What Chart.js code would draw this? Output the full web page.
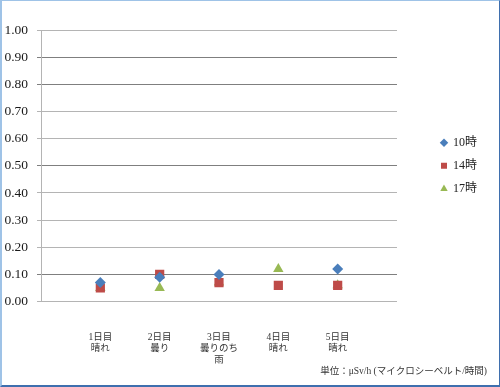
<!DOCTYPE html>
<html lang="ja">
<head>
<meta charset="UTF-8">
<title>空間線量</title>
<script src="https://cdn.jsdelivr.net/npm/chart.js"></script>
<style>
  html, body { margin: 0; padding: 0; background: #fff; }
  #wrap {
    position: relative;
    width: 500px; height: 387px;
    box-sizing: border-box;
    border-top: 1px solid #9fc3e7;
    border-left: 2px solid #9fc3e7;
    border-right: 1px solid #3f6fae;
    border-bottom: 2px solid #3f6fae;
  }
</style>
</head>
<body>
<div id="wrap"><canvas id="doseChart"></canvas></div>
<script>
  // days (x positions 1..5) and their labels
  const dayLabels = [
    ['1日目', '晴れ'],
    ['2日目', '曇り'],
    ['3日目', '曇りのち', '雨'],
    ['4日目', '晴れ'],
    ['5日目', '晴れ']
  ];
  const seriesNames = ['10時', '14時', '17時'];
  const at10 = [0.07, 0.09, 0.10, null, 0.12];
  const at14 = [0.05, 0.10, 0.07, 0.06, 0.06];
  const at17 = [0.05, 0.05, 0.07, 0.12, 0.06];
  const unitText = '単位：μSv/h (マイクロシーベルト/時間)';

  const serif = "'Liberation Serif', 'Noto Sans CJK JP', serif";
  const toPoints = vals => vals.map((v, i) => ({ x: i + 1, y: v }));

  const ctx = document.getElementById('doseChart').getContext('2d');
  new Chart(ctx, {
    type: 'scatter',
    data: {
      datasets: [
        { label: seriesNames[0], data: toPoints(at10), pointStyle: 'rectRot', pointRadius: 5.5,
          backgroundColor: '#4a7ebb', borderColor: '#4a7ebb', borderWidth: 0 },
        { label: seriesNames[1], data: toPoints(at14), pointStyle: 'rect', pointRadius: 6.5,
          backgroundColor: '#be4b48', borderColor: '#be4b48', borderWidth: 0 },
        { label: seriesNames[2], data: toPoints(at17), pointStyle: 'triangle', pointRadius: 6,
          backgroundColor: '#98b954', borderColor: '#98b954', borderWidth: 0 }
      ]
    },
    options: {
      responsive: true,
      maintainAspectRatio: false,
      animation: false,
      layout: { padding: { top: 29, right: 12, bottom: 4, left: 0 } },
      scales: {
        x: {
          type: 'linear', min: 0, max: 6,
          afterBuildTicks: axis => { axis.ticks = dayLabels.map((_, i) => ({ value: i + 1 })); },
          afterFit: axis => { axis.height = 62; },
          grid: { display: false, drawTicks: false },
          border: { display: false },
          ticks: {
            padding: 30, maxRotation: 0, color: '#333',
            font: { family: serif, size: 9.5 }, lineHeight: 1.3,
            callback: v => dayLabels[v - 1] || ''
          }
        },
        y: {
          min: 0, max: 1,
          afterFit: axis => { axis.width = 39; },
          ticks: {
            stepSize: 0.1, color: '#1a1a1a', padding: 9,
            font: { family: serif, size: 13.5 },
            callback: v => v.toFixed(2)
          },
          grid: {
            tickLength: 4,
            color: c => [0.1, 0.5, 0.8, 0.9].some(t => Math.abs(c.tick.value - t) < 1e-6) ? '#7f7f7f' : '#b4b4b4'
          },
          border: { color: '#b4b4b4' }
        },
        // empty gap between plot area and legend
        gap: {
          position: 'right', min: 0, max: 1,
          afterFit: axis => { axis.width = 33; },
          grid: { display: false },
          ticks: { display: false },
          border: { display: false }
        }
      },
      plugins: {
        legend: {
          position: 'right',
          fullSize: false,
          labels: {
            usePointStyle: true, boxWidth: 6, boxHeight: 6, padding: 11,
            color: '#222', font: { family: serif, size: 12 }
          }
        },
        subtitle: {
          display: true, position: 'bottom', align: 'end', text: unitText,
          color: '#333', font: { family: serif, size: 9.5 },
          padding: { top: 2, bottom: 4 }
        },
        tooltip: { enabled: false }
      }
    }
  });
</script>
</body>
</html>
